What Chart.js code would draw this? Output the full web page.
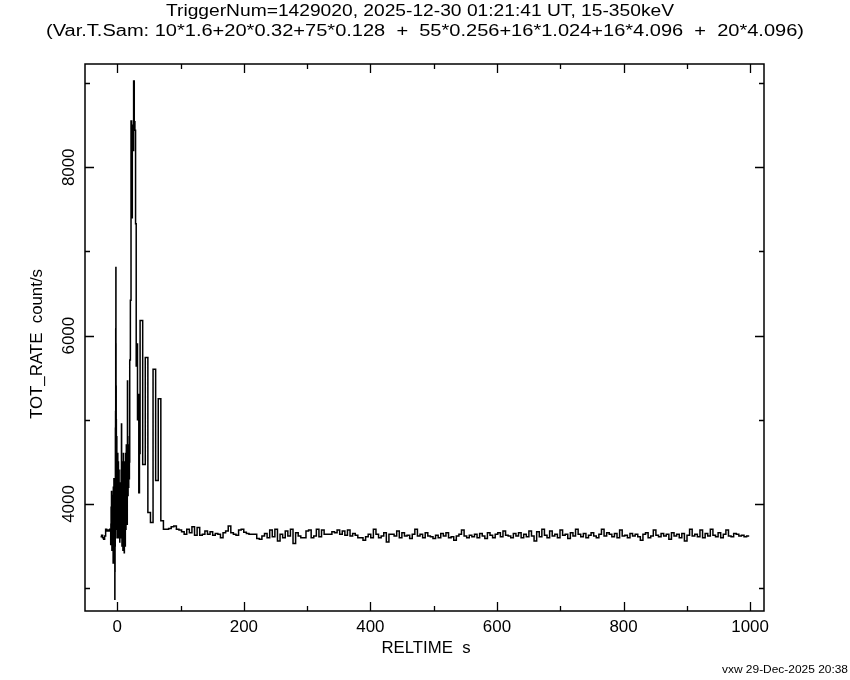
<!DOCTYPE html>
<html>
<head>
<meta charset="utf-8">
<script src="https://cdn.jsdelivr.net/npm/chart.js@4.4.1/dist/chart.umd.min.js"></script>
<style>
  html, body { margin: 0; padding: 0; background: #fff; }
</style>
</head>
<body>
<canvas id="lc" width="850" height="680"></canvas>
<script>
// light curve bins: variable time sampling, first bin starts at startTime
const startTime = -26.4
const binWidths = [1.6, 0.32, 0.128, 0.256, 1.024, 4.096]

const rates16 = [3610, 3630, 3600, 3580, 3620, 3700, 3680, 3690, 3680, 3700]

const rates032 = [3520, 3760, 3960, 3600, 4150, 3700, 3450, 3950, 3650, 4100,
  3500, 3900, 3300, 4200, 3800, 3600, 4300, 3400, 3950, 3700]

const rates0128 = [3300, 2870, 3600, 3200, 4000, 3500, 4300, 3800, 4900, 4200,
  5100, 4600, 6080, 5500, 6810, 5900, 4870, 5400, 4400, 5000,
  4200, 4700, 3900, 4500, 3700, 4800, 4100, 4400, 3600, 4600,
  4000, 4300, 3700, 4500, 3900, 4200, 3650, 4600, 3800, 4100,
  3700, 4400, 3900, 4200, 3600, 4500, 3800, 4000, 3700, 4300,
  3650, 4100, 3800, 4400, 3700, 4000, 3600, 4200, 3750, 4100,
  3650, 3950, 3550, 4150, 3700, 4000, 3600, 4250, 3750, 3900,
  3650, 4050, 3700, 3950, 3600]

const rates0256 = [4100, 3600, 4400, 3800, 4950, 3700, 4200, 3500, 4300, 3900,
  4500, 3600, 4000, 3450, 4400, 3800, 4600, 3500, 4100, 3700,
  4300, 3420, 4000, 3600, 4500, 3800, 4200, 3500, 4400, 3900,
  4600, 3700, 4300, 3900, 4700, 3800, 4400, 4000, 4650, 3760,
  4500, 5460, 4200, 4600, 4100, 4700, 4300, 4500, 4200, 4600,
  4400, 4700, 4300, 4800, 4500]

const rates1024 = [5710, 6420, 8550, 7400, 8500, 8200, 9024, 8540,
  8440, 7330, 5640, 5900, 5000, 5300, 4135, 4600]

const rates4096 = [6180, 4470, 5740, 3900, 3780, 5600, 4280, 5250,
  3800, 3700, 3700, 3710, 3730, 3740, 3700, 3690, 3670, 3640,
  3700, 3660, 3730, 3630, 3720, 3630, 3640, 3680, 3640, 3670,
  3630, 3650, 3640, 3600, 3660, 3680, 3740, 3660, 3640, 3630,
  3690, 3700, 3665, 3650, 3640, 3640, 3640, 3590, 3580, 3620,
  3650, 3600, 3690, 3610, 3700, 3560, 3640, 3600, 3680, 3620,
  3700, 3530, 3660, 3620, 3600, 3600, 3680, 3690, 3600, 3620,
  3700, 3610, 3690, 3640, 3640, 3640, 3670, 3660, 3690, 3640,
  3680, 3630, 3690, 3620, 3650, 3630, 3600, 3600, 3570, 3610,
  3640, 3600, 3700, 3640, 3600, 3620, 3660, 3550, 3640, 3640,
  3620, 3680, 3600, 3660, 3620, 3630, 3590, 3640, 3700, 3620,
  3640, 3600, 3660, 3620, 3610, 3590, 3630, 3600, 3650, 3620,
  3660, 3600, 3610, 3570, 3620, 3640, 3690, 3620, 3600, 3630,
  3610, 3640, 3600, 3650, 3620, 3590, 3660, 3630, 3600, 3640,
  3660, 3610, 3680, 3630, 3620, 3600, 3650, 3620, 3660, 3600,
  3640, 3610, 3680, 3620, 3560, 3670, 3610, 3700, 3630, 3600,
  3680, 3620, 3640, 3600, 3690, 3630, 3640, 3590, 3660, 3620,
  3700, 3640, 3610, 3650, 3600, 3630, 3660, 3620, 3600, 3640,
  3700, 3620, 3660, 3640, 3610, 3650, 3600, 3690, 3620, 3630,
  3600, 3650, 3620, 3640, 3610, 3570, 3640, 3660, 3600, 3620,
  3690, 3630, 3610, 3650, 3620, 3640, 3580, 3660, 3620, 3640,
  3600, 3650, 3560, 3630, 3700, 3620, 3640, 3610, 3690, 3600,
  3650, 3620, 3700, 3630, 3610, 3660, 3600, 3640, 3690, 3620,
  3610, 3650, 3640, 3620, 3630, 3610, 3620]

const xTickLabels = [0, 200, 400, 600, 800, 1000]
const yTickLabels = [4000, 6000, 8000]

const titleLine1 = "TriggerNum=1429020, 2025-12-30 01:21:41 UT, 15-350keV"
const titleLine2 = "(Var.T.Sam: 10*1.6+20*0.32+75*0.128  +  55*0.256+16*1.024+16*4.096  +  20*4.096)"
const xTitle = "RELTIME  s"
const yTitle = "TOT_RATE  count/s"
const footer = "vxw 29-Dec-2025 20:38"

// bin left edges -> step points
const segments = [rates16, rates032, rates0128, rates0256, rates1024, rates4096]
const points = []
let t = startTime
segments.forEach((rates, i) => {
  rates.forEach((r) => {
    points.push({ x: t, y: r })
    t += binWidths[i]
  })
})
points.push({ x: t, y: points[points.length - 1].y })

const FONT = "'Liberation Sans', 'DejaVu Sans', sans-serif"

function fitText(ctx, text, cx, cy, width, size, rot) {
  ctx.save()
  ctx.font = size + "px " + FONT
  const w = ctx.measureText(text).width
  ctx.translate(cx, cy)
  if (rot) ctx.rotate(rot)
  if (width) ctx.scale(width / w, 1)
  ctx.textAlign = "center"
  ctx.textBaseline = "middle"
  ctx.fillStyle = "#000"
  ctx.fillText(text, 0, 0)
  ctx.restore()
}

const framePlugin = {
  id: "frame",
  afterDraw(chart) {
    const ctx = chart.ctx
    const a = chart.chartArea
    const xs = chart.scales.x
    const ys = chart.scales.y
    ctx.save()
    ctx.strokeStyle = "#000"
    ctx.lineWidth = 1.5
    ctx.strokeRect(a.left, a.top, a.right - a.left, a.bottom - a.top)

    ctx.beginPath()
    for (let v = 0; v <= 1000; v += 100) {
      const px = Math.round(xs.getPixelForValue(v)) + 0.5
      const len = v % 200 == 0 ? 9 : 5
      ctx.moveTo(px, a.bottom); ctx.lineTo(px, a.bottom - len)
      ctx.moveTo(px, a.top); ctx.lineTo(px, a.top + len)
    }
    for (let v = 3000; v <= 9000; v += 1000) {
      const py = Math.round(ys.getPixelForValue(v)) + 0.5
      const len = v % 2000 == 0 ? 9 : 5
      ctx.moveTo(a.left, py); ctx.lineTo(a.left + len, py)
      ctx.moveTo(a.right, py); ctx.lineTo(a.right - len, py)
    }
    ctx.lineWidth = 1.3
    ctx.stroke()
    ctx.restore()

    xTickLabels.forEach((v) => {
      const s = String(v)
      fitText(ctx, s, xs.getPixelForValue(v), 628, s.length * 9.4, 16)
    })
    yTickLabels.forEach((v) => {
      const s = String(v)
      fitText(ctx, s, 70, ys.getPixelForValue(v), s.length * 9.4, 16, -Math.PI / 2)
    })

    fitText(ctx, titleLine1, 420, 12, 508, 16)
    fitText(ctx, titleLine2, 425, 32, 758, 16)
    fitText(ctx, xTitle, 426, 649, 89, 16)
    fitText(ctx, yTitle, 38, 344, 150, 16, -Math.PI / 2)
    fitText(ctx, footer, 785, 670, 126, 11)
  }
}

new Chart(document.getElementById("lc"), {
  type: "line",
  data: {
    datasets: [{
      data: points,
      stepped: true,
      borderColor: "#000",
      borderWidth: 1.5,
      pointRadius: 0,
      fill: false,
    }]
  },
  options: {
    responsive: false,
    animation: false,
    layout: {
      padding: { left: 85, right: 850 - 764, top: 64, bottom: 680 - 611 }
    },
    scales: {
      x: {
        type: "linear",
        min: -51,
        max: 1022,
        grid: { display: false },
        ticks: { display: false },
        border: { display: false },
        afterFit(s) { s.height = 0 },
      },
      y: {
        min: 2729,
        max: 9227,
        grid: { display: false },
        ticks: { display: false },
        border: { display: false },
        afterFit(s) { s.width = 0 },
      }
    },
    plugins: {
      legend: { display: false },
      tooltip: { enabled: false },
    },
  },
  plugins: [framePlugin],
})
</script>
</body>
</html>
